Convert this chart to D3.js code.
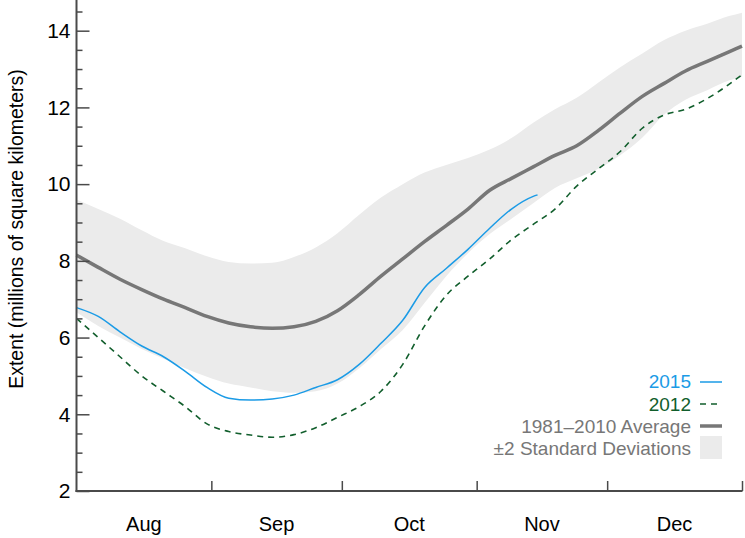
<!DOCTYPE html>
<html>
<head>
<meta charset="utf-8">
<script src="https://cdn.jsdelivr.net/npm/d3@7"></script>
<style>
  html, body { margin: 0; padding: 0; background: #fff; }
  svg { display: block; font-family: "Liberation Sans", Arial, Helvetica, sans-serif; }
</style>
</head>
<body>
<svg id="chart" width="745" height="538"></svg>
<script>
// ---- data (day offsets from Aug 1, 2015) ----
const startDate = new Date(2015, 7, 1);
const endDate = new Date(2016, 0, 1);
const dayOffsets = [0,5,10,15,20,25,30,35,40,45,50,55,60,65,70,75,80,85,90,95,100,105,110,115,120,125,130,135,140,145,150,153];

const average = [8.15,7.83,7.52,7.25,7.0,6.78,6.55,6.38,6.28,6.24,6.28,6.42,6.7,7.12,7.6,8.05,8.5,8.92,9.35,9.84,10.15,10.45,10.75,11.0,11.4,11.85,12.28,12.62,12.95,13.2,13.45,13.6];
const bandUpper = [9.6,9.35,9.1,8.8,8.52,8.33,8.12,7.97,7.93,7.95,8.1,8.35,8.72,9.2,9.65,10.0,10.3,10.5,10.68,10.9,11.2,11.6,11.95,12.25,12.65,13.05,13.4,13.75,14.0,14.18,14.38,14.47];
const bandLower = [6.66,6.3,6.0,5.7,5.45,5.2,4.98,4.8,4.7,4.6,4.56,4.6,4.8,5.2,5.7,6.2,6.9,7.6,8.2,8.7,9.1,9.5,9.9,10.15,10.4,10.75,11.2,11.8,12.2,12.45,12.7,12.8];
const year2012 = [6.5,6.0,5.5,5.0,4.6,4.2,3.75,3.55,3.46,3.4,3.47,3.65,3.92,4.2,4.6,5.3,6.3,7.1,7.6,8.05,8.55,8.95,9.35,9.95,10.4,10.85,11.45,11.8,11.95,12.23,12.6,12.85];
const days2015 = [0,5,10,15,20,25,30,35,40,45,50,55,60,65,70,75,80,85,90,95,100,105,106];
const year2015 = [6.78,6.55,6.15,5.78,5.5,5.12,4.7,4.42,4.37,4.4,4.5,4.7,4.9,5.3,5.85,6.45,7.3,7.8,8.3,8.85,9.35,9.68,9.72];

const monthTicks = [new Date(2015,8,1), new Date(2015,9,1), new Date(2015,10,1), new Date(2015,11,1), new Date(2016,0,1)];
const monthLabels = ["Aug","Sep","Oct","Nov","Dec"];
const yMajorTicks = [2,4,6,8,10,12,14];
const yLabel = "Extent (millions of square kilometers)";
const legendItems = ["2015","2012","1981\u20132010 Average","\u00B12 Standard Deviations"];

// ---- colours ----
const C2015 = "#1b9be6", C2012 = "#115e2c", CAVG = "#777777", CBAND = "#ebebeb", CAXIS = "#4a4a4a";

const svg = d3.select("#chart");
const x = d3.scaleTime().domain([startDate, endDate]).range([76.5, 742]);
const y = d3.scaleLinear().domain([2, 14.8]).range([491, 0]);
const dt = d => d3.timeDay.offset(startDate, d);

const bandData = dayOffsets.map((d,i) => ({date: dt(d), lo: bandLower[i], hi: bandUpper[i]}));
const avgData = dayOffsets.map((d,i) => ({date: dt(d), v: average[i]}));
const d2012 = dayOffsets.map((d,i) => ({date: dt(d), v: year2012[i]}));
const d2015 = days2015.map((d,i) => ({date: dt(d), v: year2015[i]}));

const curve = d3.curveMonotoneX;
svg.append("path").datum(bandData)
  .attr("fill", CBAND)
  .attr("d", d3.area().curve(curve).x(d => x(d.date)).y0(d => y(d.lo)).y1(d => y(d.hi)));

const line = d3.line().curve(curve).x(d => x(d.date)).y(d => y(d.v));
svg.append("path").datum(avgData).attr("fill","none").attr("stroke",CAVG).attr("stroke-width",3.5).attr("d", line);
svg.append("path").datum(d2012).attr("fill","none").attr("stroke",C2012).attr("stroke-width",1.6)
  .attr("stroke-dasharray","6,5").attr("d", line);
svg.append("path").datum(d2015).attr("fill","none").attr("stroke",C2015).attr("stroke-width",1.5).attr("d", line);

// ---- y axis ----
const yMinor = d3.range(2, 14.75, 0.5).filter(v => !yMajorTicks.includes(v));
const yAxisMajor = d3.axisLeft(y).tickValues(yMajorTicks).tickSize(-13).tickPadding(0).tickFormat(d3.format("d"));
const gy = svg.append("g").attr("transform","translate(76.5,0)").call(yAxisMajor);
gy.attr("font-size", null).attr("font-family", null);
gy.select(".domain").remove();
gy.selectAll(".tick line").attr("stroke", CAXIS).attr("stroke-width", 1.5);
gy.selectAll(".tick text").attr("x", -6).attr("font-size", 21).attr("fill","#000");
const gyMinor = svg.append("g").attr("transform","translate(76.5,0)")
  .call(d3.axisLeft(y).tickValues(yMinor).tickSize(-6).tickFormat(""));
gyMinor.select(".domain").remove();
gyMinor.selectAll(".tick line").attr("stroke", CAXIS).attr("stroke-width", 1.5);

// ---- x axis ----
const gx = svg.append("g").attr("transform","translate(0,491)")
  .call(d3.axisBottom(x).tickValues(monthTicks).tickSize(-10).tickFormat(""));
gx.select(".domain").remove();
gx.selectAll(".tick line").attr("stroke", CAXIS).attr("stroke-width", 1.5);

// axis lines
svg.append("line").attr("x1",76.5).attr("x2",76.5).attr("y1",0).attr("y2",492)
  .attr("stroke",CAXIS).attr("stroke-width",2);
svg.append("line").attr("x1",75.5).attr("x2",x(endDate)+0.5).attr("y1",491).attr("y2",491)
  .attr("stroke",CAXIS).attr("stroke-width",2);

// month labels centered between ticks
const monthStarts = [startDate].concat(monthTicks.slice(0,4));
monthLabels.forEach((m,i) => {
  const a = x(monthStarts[i]), b = x(monthTicks[i]);
  svg.append("text").attr("x",(a+b)/2).attr("y",531).attr("text-anchor","middle")
    .attr("font-size",20).attr("fill","#000").text(m);
});

// y label
svg.append("text").attr("transform","translate(23,229) rotate(-90)").attr("text-anchor","middle")
  .attr("font-size",19.5).attr("fill","#000").text(yLabel);

// ---- legend ----
const lgX = 691, swX1 = 700, swX2 = 722;
const lgY = [388, 411, 433, 455];
const lgCol = [C2015, C2012, "#777777", "#777777"];
legendItems.forEach((t,i) => {
  svg.append("text").attr("x", lgX).attr("y", lgY[i]).attr("text-anchor","end")
    .attr("font-size",19).attr("fill", lgCol[i]).text(t);
});
svg.append("line").attr("x1",swX1).attr("x2",swX2).attr("y1",382).attr("y2",382).attr("stroke",C2015).attr("stroke-width",1.5);
svg.append("line").attr("x1",swX1).attr("x2",swX2).attr("y1",404).attr("y2",404).attr("stroke",C2012).attr("stroke-width",1.6).attr("stroke-dasharray","6,5");
svg.append("line").attr("x1",swX1).attr("x2",swX2).attr("y1",426).attr("y2",426).attr("stroke",CAVG).attr("stroke-width",3.5);
svg.append("rect").attr("x",swX1).attr("y",436).attr("width",swX2-swX1).attr("height",23).attr("fill",CBAND);
</script>
</body>
</html>
